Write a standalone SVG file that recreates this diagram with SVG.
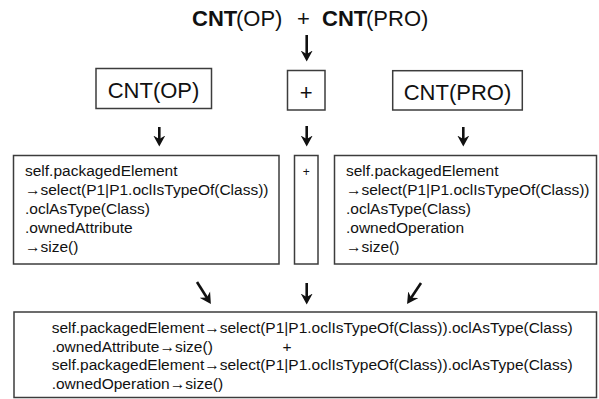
<svg xmlns="http://www.w3.org/2000/svg" width="599" height="399" viewBox="0 0 599 399">
<style>
  .box { fill: #ffffff; stroke: #3c3c3c; stroke-width: 1.5; }
  .t { font-family: "Liberation Sans", Arial, sans-serif; fill: #111111; }
  .big { font-size: 22px; }
  .code { font-size: 15.5px; }
  .b { font-weight: bold; }
  .shaft { stroke: #111111; stroke-width: 2.6; fill: none; }
</style>
<defs>
  <marker id="ah" viewBox="0 0 11 13" refX="7.5" refY="6.5" markerWidth="11" markerHeight="13" markerUnits="userSpaceOnUse" orient="auto">
    <path d="M0,0.5 L11,6.5 L0,12.5 L3.5,6.5 Z" fill="#111111"/>
  </marker>
</defs>
<rect width="599" height="399" fill="#ffffff"/>

<g id="title">
  <text class="t big" y="26"><tspan class="b" x="192">CNT</tspan><tspan x="236">(OP)</tspan><tspan x="297">+</tspan><tspan class="b" x="322">CNT</tspan><tspan x="366">(PRO)</tspan></text>
</g>

<g id="node-cnt-op">
  <rect class="box" x="96" y="68.5" width="115.5" height="40"/>
  <text class="t big" x="153.5" y="98" text-anchor="middle">CNT(OP)</text>
</g>
<g id="node-plus">
  <rect class="box" x="287.5" y="70.5" width="37.5" height="39.5"/>
  <text class="t big" x="306.3" y="100" text-anchor="middle">+</text>
</g>
<g id="node-cnt-pro">
  <rect class="box" x="392.7" y="70.7" width="129.6" height="39.3"/>
  <text class="t big" x="457.5" y="100" text-anchor="middle">CNT(PRO)</text>
</g>

<g id="node-left-expr">
  <rect class="box" x="13.5" y="155.5" width="265.5" height="108.5"/>
  <text class="t code" x="25" y="176">self.packagedElement</text>
  <text class="t code" x="25" y="195"><tspan class="b">→</tspan>select(P1|P1.oclIsTypeOf(Class))</text>
  <text class="t code" x="25" y="214">.oclAsType(Class)</text>
  <text class="t code" x="25" y="233">.ownedAttribute</text>
  <text class="t code" x="25" y="252"><tspan class="b">→</tspan>size()</text>
</g>
<g id="node-mid-plus">
  <rect class="box" x="294.5" y="155.5" width="23.5" height="108.5"/>
  <text class="t" x="306.3" y="175.5" font-size="12" text-anchor="middle">+</text>
</g>
<g id="node-right-expr">
  <rect class="box" x="334.5" y="155.5" width="262" height="108.5"/>
  <text class="t code" x="346" y="176">self.packagedElement</text>
  <text class="t code" x="346" y="195"><tspan class="b">→</tspan>select(P1|P1.oclIsTypeOf(Class))</text>
  <text class="t code" x="346" y="214">.oclAsType(Class)</text>
  <text class="t code" x="346" y="233">.ownedOperation</text>
  <text class="t code" x="346" y="252"><tspan class="b">→</tspan>size()</text>
</g>

<g id="node-result">
  <rect class="box" x="14" y="312" width="582.5" height="85.5"/>
  <text class="t code" x="51.7" y="333">self.packagedElement<tspan class="b">→</tspan>select(P1|P1.oclIsTypeOf(Class)).oclAsType(Class)</text>
  <text class="t code" x="51.7" y="351.5">.ownedAttribute<tspan class="b">→</tspan>size()</text>
  <text class="t code" x="287" y="351.5" text-anchor="middle">+</text>
  <text class="t code" x="51.7" y="370">self.packagedElement<tspan class="b">→</tspan>select(P1|P1.oclIsTypeOf(Class)).oclAsType(Class)</text>
  <text class="t code" x="51.7" y="388.5">.ownedOperation<tspan class="b">→</tspan>size()</text>
</g>

<g id="connectors">
  <line class="shaft" x1="306.7" y1="35" x2="306.7" y2="58" marker-end="url(#ah)"/>
  <line class="shaft" x1="159.3" y1="127" x2="159.3" y2="143" marker-end="url(#ah)"/>
  <line class="shaft" x1="306.7" y1="126" x2="306.7" y2="143" marker-end="url(#ah)"/>
  <line class="shaft" x1="463.3" y1="127" x2="463.3" y2="143" marker-end="url(#ah)"/>
  <line class="shaft" x1="197" y1="282" x2="209" y2="301" marker-end="url(#ah)"/>
  <line class="shaft" x1="306.7" y1="283" x2="306.7" y2="301" marker-end="url(#ah)"/>
  <line class="shaft" x1="421" y1="283" x2="409" y2="301" marker-end="url(#ah)"/>
</g>
</svg>
